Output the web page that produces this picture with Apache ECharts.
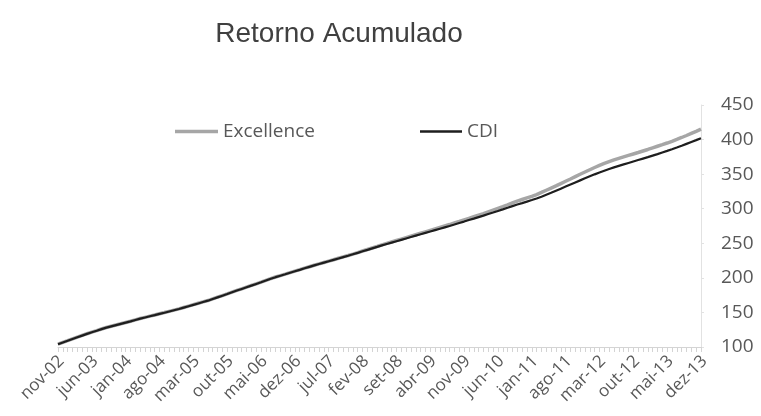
<!DOCTYPE html>
<html>
<head>
<meta charset="utf-8">
<script src="https://cdn.jsdelivr.net/npm/echarts@6/dist/echarts.min.js"></script>
<style>
html,body{margin:0;padding:0;background:#fff;}
#chart{width:761px;height:416px;}
</style>
</head>
<body>
<div id="chart"></div>
<script>
var monthNames = ['jan','fev','mar','abr','mai','jun','jul','ago','set','out','nov','dez'];
var startMonth = 10, startYear = 2, monthCount = 134;
var categories = [];
for (var i = 0; i < monthCount; i++) {
  var m = (startMonth + i) % 12;
  var y = startYear + Math.floor((startMonth + i) / 12);
  categories.push(monthNames[m] + '-' + (y < 10 ? '0' + y : '' + y));
}

var excellence = [
104.0,106.6,109.1,111.7,114.2,116.7,119.2,121.5,123.7,126.0,
128.2,130.0,131.8,133.6,135.4,137.2,139.2,141.2,142.9,144.6,
146.3,148.1,149.8,151.6,153.4,155.2,157.2,159.2,161.2,163.2,
165.2,167.2,169.6,172.0,174.4,176.8,179.3,181.8,184.2,186.6,
189.0,191.4,193.8,196.3,198.8,201.2,203.3,205.4,207.6,209.7,
211.8,214.0,216.1,218.2,220.2,222.2,224.2,226.2,228.3,230.3,
232.3,234.4,236.6,238.8,241.0,243.2,245.4,247.7,249.8,251.9,
254.0,256.1,258.2,260.3,262.4,264.5,266.6,268.7,270.8,272.9,
275.0,277.1,279.3,281.5,283.8,286.1,288.4,290.7,293.0,295.5,
298.0,300.5,303.0,305.6,308.3,311.0,313.3,315.6,317.9,320.4,
323.5,326.7,329.9,333.1,336.4,339.7,343.0,346.4,349.8,353.1,
356.4,359.6,362.6,365.5,368.1,370.6,372.8,375.0,377.1,379.2,
381.3,383.5,385.7,388.0,390.3,392.6,395.0,397.5,400.2,403.0,
405.9,408.9,411.9,415.0
];

var cdi = [
104.0,106.5,109.0,111.5,114.0,116.5,119.0,121.3,123.5,125.8,
128.0,129.8,131.6,133.4,135.2,137.0,139.0,141.0,142.7,144.4,
146.1,147.9,149.6,151.4,153.2,155.0,157.0,159.0,161.0,163.0,
165.0,167.0,169.4,171.8,174.2,176.6,179.1,181.6,184.0,186.4,
188.8,191.2,193.6,196.1,198.6,201.0,203.1,205.2,207.4,209.5,
211.6,213.8,215.9,218.0,220.0,222.0,224.0,226.0,228.0,230.0,
232.0,234.1,236.2,238.4,240.5,242.7,244.8,247.0,249.0,251.0,
253.0,255.0,257.0,259.0,261.0,263.0,265.0,267.0,269.0,271.0,
273.0,275.0,277.1,279.3,281.4,283.6,285.7,287.9,290.0,292.3,
294.5,296.8,299.0,301.3,303.7,306.0,308.1,310.3,312.5,314.8,
317.4,320.2,323.0,326.0,329.0,332.0,335.0,338.0,341.0,344.0,
346.9,349.7,352.4,355.0,357.5,359.8,362.0,364.1,366.2,368.3,
370.4,372.5,374.6,376.8,379.0,381.3,383.6,386.0,388.5,391.1,
393.8,396.5,399.2,402.0
];

var yTicks = [100, 150, 200, 250, 300, 350, 400, 450];

var labelFont = '"Open Sans", "Noto Sans", sans-serif';
var textColor = '#585858';
var chart = echarts.init(document.getElementById('chart'));
chart.setOption({
  backgroundColor: '#fff',
  animation: false,
  title: {
    text: 'Retorno Acumulado',
    left: 334, top: 15, textAlign: 'center',
    textStyle: { fontFamily: '"Liberation Sans", Arial, sans-serif', fontSize: 28, fontWeight: 'normal', color: '#404040' }
  },
  legend: [
    { data: ['Excellence'], left: 175, top: 122, padding: 0, icon: 'rect', itemWidth: 43, itemHeight: 3.5, itemGap: 4,
      textStyle: { fontFamily: labelFont, fontSize: 19, color: textColor } },
    { data: ['CDI'], left: 420, top: 122, padding: 0, icon: 'rect', itemWidth: 42, itemHeight: 2.5, itemGap: 4,
      textStyle: { fontFamily: labelFont, fontSize: 19, color: textColor } }
  ],
  grid: { left: 58, right: 60, top: 105, bottom: 69 },
  xAxis: {
    type: 'category',
    data: categories,
    boundaryGap: false,
    axisLine: { lineStyle: { color: '#d4d4d4', width: 1 } },
    axisTick: { show: true, interval: 0, length: 5, lineStyle: { color: '#d4d4d4' } },
    axisLabel: {
      interval: 6, rotate: 45, margin: 15, padding: [0, -5, 0, 0],
      fontFamily: labelFont, fontSize: 17, color: textColor
    },
    splitLine: { show: false }
  },
  yAxis: {
    type: 'value',
    position: 'right',
    min: 100, max: 450, interval: 50,
    axisLine: { show: true, lineStyle: { color: '#e2e2e2' } },
    axisTick: { show: true, length: 3, lineStyle: { color: '#e2e2e2' } },
    axisLabel: {
      margin: 20, fontFamily: labelFont, fontSize: 19, color: textColor,
      formatter: function (v) { return yTicks.indexOf(v) >= 0 ? String(v) : ''; }
    },
    splitLine: { show: false }
  },
  series: [
    { name: 'Excellence', type: 'line', data: excellence, symbol: 'none', smooth: false,
      lineStyle: { color: '#a6a6a6', width: 3.5 }, itemStyle: { color: '#a6a6a6' } },
    { name: 'CDI', type: 'line', data: cdi, symbol: 'none', smooth: false,
      lineStyle: { color: '#1e1e1e', width: 2.2 }, itemStyle: { color: '#1e1e1e' } }
  ]
});
</script>
</body>
</html>
